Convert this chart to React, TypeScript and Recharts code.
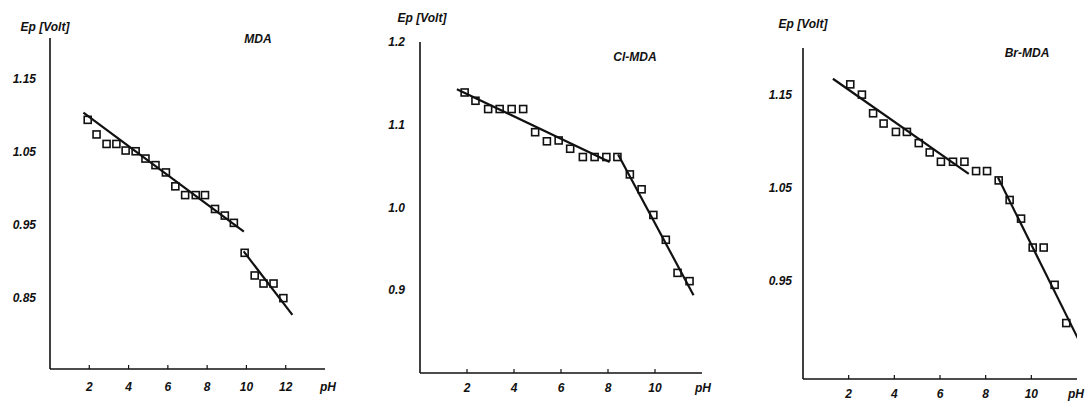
import React from "react";
import { ComposedChart, Scatter, XAxis, YAxis } from "recharts";

// ---------- data ----------
const mdaPH = [1.92, 2.37, 2.88, 3.38, 3.85, 4.36, 4.86, 5.37, 5.9, 6.38, 6.88, 7.42, 7.89, 8.4, 8.9, 9.36, 9.91, 10.42, 10.87, 11.38, 11.88];
const mdaEp = [1.094, 1.074, 1.061, 1.061, 1.052, 1.051, 1.041, 1.032, 1.022, 1.003, 0.991, 0.991, 0.991, 0.972, 0.963, 0.953, 0.912, 0.881, 0.87, 0.87, 0.85];
const mdaFit1PH = [1.7, 9.87];
const mdaFit1Ep = [1.104, 0.941];
const mdaFit2PH = [9.86, 12.34];
const mdaFit2Ep = [0.914, 0.827];

const clPH = [1.9, 2.36, 2.9, 3.39, 3.9, 4.39, 4.9, 5.4, 5.9, 6.39, 6.93, 7.43, 7.93, 8.4, 8.93, 9.43, 9.93, 10.46, 10.96, 11.47];
const clEp = [1.139, 1.129, 1.119, 1.119, 1.119, 1.119, 1.091, 1.08, 1.081, 1.071, 1.061, 1.061, 1.061, 1.061, 1.04, 1.022, 0.991, 0.961, 0.921, 0.911];
const clFit1PH = [1.57, 8.07];
const clFit1Ep = [1.143, 1.055];
const clFit2PH = [8.43, 11.64];
const clFit2Ep = [1.064, 0.894];

const brPH = [2.07, 2.58, 3.07, 3.53, 4.07, 4.55, 5.07, 5.55, 6.04, 6.57, 7.07, 7.58, 8.06, 8.57, 9.05, 9.55, 10.06, 10.54, 11.02, 11.53];
const brEp = [1.161, 1.15, 1.13, 1.119, 1.11, 1.11, 1.098, 1.088, 1.078, 1.078, 1.078, 1.068, 1.068, 1.058, 1.037, 1.017, 0.986, 0.986, 0.946, 0.905];
const brFit1PH = [1.31, 7.26];
const brFit1Ep = [1.167, 1.065];
const brFit2PH = [8.54, 12.07];
const brFit2Ep = [1.061, 0.887];

const mdaXTicks = [2, 4, 6, 8, 10, 12];
const mdaYTicks = [0.85, 0.95, 1.05, 1.15];
const clXTicks = [2, 4, 6, 8, 10];
const clYTicks = [0.9, 1.0, 1.1, 1.2];
const brXTicks = [2, 4, 6, 8, 10];
const brYTicks = [0.95, 1.05, 1.15];

const zip = (xs: number[], ys: number[]) => xs.map((x, i) => ({ x, y: ys[i] }));

// ---------- style ----------
const FONT = "'Liberation Sans', Arial, Helvetica, sans-serif";
const INK = "#111";
const textStyle = { fontFamily: FONT, fontStyle: "italic" as const, fontWeight: 700, fontSize: 12, fill: INK };

const Square = (props: any) => {
  const { cx, cy } = props;
  if (cx == null || cy == null) return <g />;
  return <rect x={cx - 3.5} y={cy - 3.5} width={7} height={7} fill="none" stroke={INK} strokeWidth={1.6} />;
};
const NoShape = () => <g />;

type PanelProps = {
  left: number;
  width: number;
  mt: number;
  mr: number;
  mb: number;
  xh: number;
  xDomain: [number, number];
  yDomain: [number, number];
  xTicks: number[];
  yTicks: number[];
  yDigits: number;
  yGap: number;
  xOff: number;
  pts: { x: number; y: number }[];
  fit1: { x: number; y: number }[];
  fit2: { x: number; y: number }[];
  title: string;
  titlePos: [number, number];
  epPos: [number, number];
  phPos: [number, number];
};

const Panel = (p: PanelProps) => {
  const H = 402;
  const XTick = (props: any) => {
    const { x, y, payload } = props;
    return (
      <g>
        <line x1={x} x2={x} y1={y} y2={y - 4} stroke={INK} strokeWidth={1.2} />
        <text x={x} y={y + p.xOff} dy="0.35em" textAnchor="middle" {...textStyle}>
          {payload.value}
        </text>
      </g>
    );
  };
  const YTick = (props: any) => {
    const { x, y, payload } = props;
    return (
      <text x={x - p.yGap} y={y} dy="0.35em" textAnchor="end" {...textStyle}>
        {Number(payload.value).toFixed(p.yDigits)}
      </text>
    );
  };
  return (
    <div style={{ position: "absolute", left: p.left, top: 0, width: p.width, height: H }}>
      <ComposedChart width={p.width} height={H} margin={{ top: p.mt, right: p.mr, bottom: p.mb, left: 0 }}>
        <XAxis
          type="number"
          dataKey="x"
          domain={p.xDomain}
          ticks={p.xTicks}
          allowDataOverflow
          height={p.xh}
          tickLine={false}
          tickSize={0}
          tickMargin={0}
          axisLine={{ stroke: INK, strokeWidth: 1.6 }}
          tick={XTick}
          interval={0}
        />
        <YAxis
          type="number"
          dataKey="y"
          domain={p.yDomain}
          ticks={p.yTicks}
          allowDataOverflow
          width={40}
          tickLine={false}
          tickSize={0}
          tickMargin={0}
          axisLine={{ stroke: INK, strokeWidth: 1.6 }}
          tick={YTick}
          interval={0}
        />
        <Scatter data={p.fit1} shape={NoShape} line={{ stroke: INK, strokeWidth: 2.2 }} isAnimationActive={false} />
        <Scatter data={p.fit2} shape={NoShape} line={{ stroke: INK, strokeWidth: 2.2 }} isAnimationActive={false} />
        <Scatter data={p.pts} shape={Square} isAnimationActive={false} />
        <text x={p.epPos[0]} y={p.epPos[1]} dy="0.35em" textAnchor="middle" {...textStyle}>
          Ep [Volt]
        </text>
        <text x={p.titlePos[0]} y={p.titlePos[1]} dy="0.35em" textAnchor="middle" {...textStyle}>
          {p.title}
        </text>
        <text x={p.phPos[0]} y={p.phPos[1]} dy="0.35em" textAnchor="middle" {...textStyle}>
          pH
        </text>
      </ComposedChart>
    </div>
  );
};

export default function App() {
  return (
    <div style={{ position: "absolute", left: 0, top: 0, width: 1088, height: 402, background: "#fff", overflow: "hidden" }}>
      <Panel
        left={10}
        width={360}
        mt={38}
        mr={45}
        mb={3}
        xh={30}
        xDomain={[0, 14]}
        yDomain={[0.753, 1.206]}
        xTicks={mdaXTicks}
        yTicks={mdaYTicks}
        yDigits={2}
        yGap={14}
        xOff={18}
        pts={zip(mdaPH, mdaEp)}
        fit1={zip(mdaFit1PH, mdaFit1Ep)}
        fit2={zip(mdaFit2PH, mdaFit2Ep)}
        title="MDA"
        titlePos={[248, 39]}
        epPos={[35, 27]}
        phPos={[318, 387]}
      />
      <Panel
        left={380}
        width={352}
        mt={42}
        mr={30}
        mb={0}
        xh={29}
        xDomain={[0, 12]}
        yDomain={[0.8, 1.2]}
        xTicks={clXTicks}
        yTicks={clYTicks}
        yDigits={1}
        yGap={15}
        xOff={15}
        pts={zip(clPH, clEp)}
        fit1={zip(clFit1PH, clFit1Ep)}
        fit2={zip(clFit2PH, clFit2Ep)}
        title="Cl-MDA"
        titlePos={[255, 57]}
        epPos={[42, 18]}
        phPos={[323, 388]}
      />
      <Panel
        left={763}
        width={325}
        mt={48}
        mr={11}
        mb={0}
        xh={23}
        xDomain={[0, 12]}
        yDomain={[0.845, 1.2]}
        xTicks={brXTicks}
        yTicks={brYTicks}
        yDigits={2}
        yGap={11}
        xOff={15}
        pts={zip(brPH, brEp)}
        fit1={zip(brFit1PH, brFit1Ep)}
        fit2={zip(brFit2PH, brFit2Ep)}
        title="Br-MDA"
        titlePos={[264, 53]}
        epPos={[40, 24]}
        phPos={[313, 394]}
      />
    </div>
  );
}
